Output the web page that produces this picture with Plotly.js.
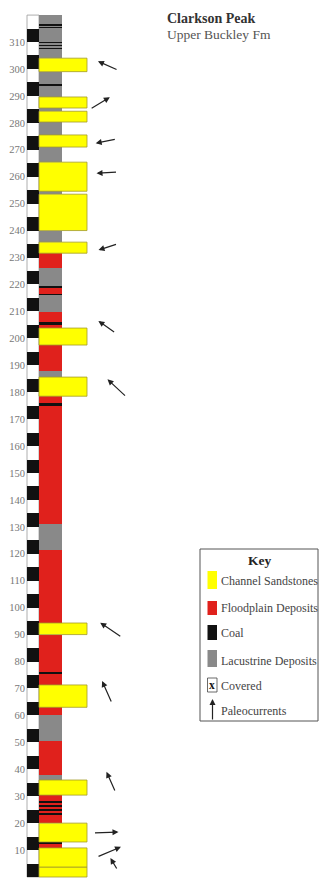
<!DOCTYPE html>
<html><head><meta charset="utf-8">
<script src="https://cdn.plot.ly/plotly-3.0.1.min.js"></script>
<style>html,body{margin:0;padding:0;background:#fff}#chart{width:323px;height:881px}</style>
</head><body><div id="chart"></div>
<script>
// ---- Data ----
// Lithologic units (metres above base of section)
const unitBase = [0, 3.7, 10.8, 13, 20, 30.4, 36, 38, 50.5, 60, 63, 71.3, 90, 94.3, 121.4, 131, 178.5, 185.6, 188, 197.5, 203.8, 209.7, 216, 219.5, 226, 231.6, 235.7, 240, 253.5, 254.6, 265.4, 271, 275.5, 280.3, 284.3, 285.5, 289.6, 299, 304];
const unitTop  = [3.7, 10.8, 13, 20, 30.4, 36, 38, 50.5, 60, 63, 71.3, 90, 94.3, 121.4, 131, 178.5, 185.6, 188, 197.5, 203.8, 209.7, 216, 219.5, 226, 231.6, 235.7, 240, 253.5, 254.6, 265.4, 271, 275.5, 280.3, 284.3, 285.5, 289.6, 299, 304, 320];
const unitLith = ['sand','sand','flood','sand','flood','sand','lac','flood','lac','flood','sand','flood','sand','flood','lac','flood','sand','lac','flood','sand','flood','lac','flood','lac','flood','sand','lac','sand','lac','sand','lac','sand','lac','sand','lac','sand','lac','sand','lac'];
// Thin coal seams (base, top)
const coalBase = [12.4, 23, 24.5, 26, 27.5, 75.2, 175, 205, 216, 218.8, 293.8, 307.4, 308.5, 309.5, 315.1, 316.1];
const coalTop  = [13, 23.6, 25.1, 26.6, 28.1, 76.1, 176, 206, 216.6, 219.4, 294.6, 307.9, 309, 310, 315.6, 316.6];
// Measuring-scale blocks (black every other 5 m)
const scaleBlackBase = [0, 10, 20, 30, 40, 50, 60, 70, 80, 90, 100, 110, 120, 130, 140, 150, 160, 170, 180, 190, 200, 210, 220, 230, 240, 250, 260, 270, 280, 290, 300, 310];
const scaleTicks = [0, 10, 20, 30, 40, 50, 60, 70, 80, 90, 100, 110, 120, 130, 140, 150, 160, 170, 180, 190, 200, 210, 220, 230, 240, 250, 260, 270, 280, 290, 300, 310];
// Paleocurrent arrows: stratigraphic height (m), azimuth of flow (deg, 0 = up)
const arrowHeight  = [301.2, 287.3, 273.2, 261.5, 233.9, 204.2, 181.5, 91.7, 68.7, 35.3, 16.5, 9.3, 3.0];
const arrowAzimuth = [294, 59, 259, 267, 252, 305, 313, 304, 336, 336, 88, 67, 342];
const arrowPosX    = [108, 100, 106, 107, 108, 107, 117, 111, 107, 111, 106, 109, 114];
const arrowLen     = [22, 23, 21, 21, 20, 21, 26, 26, 24, 22, 25, 26, 23];
// Key
const keyLabels = ['Channel Sandstones', 'Floodplain Deposits', 'Coal', 'Lacustrine Deposits', 'Covered', 'Paleocurrents'];

// ---- Styles ----
const COL = {sand:'#ffff00', flood:'#e0211c', lac:'#898989', coal:'#111111'};
const LITH_X = 39, LITH_W = 23, SAND_W = 48;
const SCALE_X = 27, SCALE_W = 12;

const traces = [];
traces.push({type:'bar', x:[SCALE_X], base:[0], y:[320], width:[SCALE_W], offset:0,
  marker:{color:'#ffffff', line:{color:'#9a9a9a', width:0.8}}, hoverinfo:'skip', showlegend:false});
traces.push({type:'bar', x:scaleBlackBase.map(()=>SCALE_X), base:scaleBlackBase, y:scaleBlackBase.map(()=>5),
  width:scaleBlackBase.map(()=>SCALE_W), offset:0, marker:{color:'#111111', line:{width:0}}, hoverinfo:'skip', showlegend:false});

function lithTrace(kind, wide, lineCol){
  const idx = unitLith.map((l,i)=>l===kind?i:-1).filter(i=>i>=0);
  return {type:'bar', x:idx.map(()=>LITH_X), base:idx.map(i=>unitBase[i]), y:idx.map(i=>unitTop[i]-unitBase[i]),
    width:idx.map(()=>wide), offset:0,
    marker:{color:COL[kind], line:{color:lineCol, width:lineCol?0.8:0}}, hoverinfo:'skip', showlegend:false};
}
traces.push(lithTrace('flood', LITH_W, null));
traces.push(lithTrace('lac', LITH_W, null));
traces.push({type:'bar', x:coalBase.map(()=>LITH_X), base:coalBase, y:coalBase.map((b,i)=>coalTop[i]-b),
  width:coalBase.map(()=>LITH_W), offset:0, marker:{color:COL.coal, line:{width:0}}, hoverinfo:'skip', showlegend:false});
traces.push(lithTrace('sand', SAND_W, '#a39a2a'));

// ---- Annotations ----
const H = 881;
const py = p => 1 - p / H;
const anns = [];
const shapes = [];
arrowHeight.forEach((h,i)=>{
  const a = arrowAzimuth[i]*Math.PI/180, L = arrowLen[i];
  const sx = Math.sin(a), sy = Math.cos(a);
  anns.push({x:arrowPosX[i], y:h, xref:'x', yref:'y', text:'', showarrow:true,
    ax:-L*sx, ay:L*sy, xshift:L/2*sx, yshift:L/2*sy,
    arrowhead:2, arrowsize:1, arrowwidth:1.2, arrowcolor:'#222'});
});
// titles
anns.push({x:165, y:py(19), xref:'x', yref:'paper', xanchor:'left', yanchor:'middle', showarrow:false,
  text:'<b>Clarkson Peak</b>', font:{family:'Liberation Serif', size:14, color:'#333'}});
anns.push({x:165, y:py(34), xref:'x', yref:'paper', xanchor:'left', yanchor:'middle', showarrow:false,
  text:'Upper Buckley Fm', font:{family:'Liberation Serif', size:13.5, color:'#555'}});
// key box
shapes.push({type:'rect', xref:'x', yref:'paper', x0:200, x1:318, y0:py(549), y1:py(721), line:{color:'#555', width:1}, fillcolor:'rgba(0,0,0,0)'});
anns.push({x:259, y:py(560), xref:'x', yref:'paper', xanchor:'center', yanchor:'middle', showarrow:false,
  text:'<b>Key</b>', font:{family:'Liberation Serif', size:13.5, color:'#222'}});
const swatch = [[571,589,COL.sand],[601,615,COL.flood],[625,640,COL.coal],[650,667,COL.lac]];
swatch.forEach(s=>shapes.push({type:'rect', xref:'x', yref:'paper', x0:207.5, x1:217, y0:py(s[1]), y1:py(s[0]), fillcolor:s[2], line:{width:0}}));
shapes.push({type:'rect', xref:'x', yref:'paper', x0:207.5, x1:217, y0:py(692), y1:py(678), fillcolor:'#fff', line:{color:'#444', width:0.8}});
anns.push({x:212.3, y:py(685), xref:'x', yref:'paper', xanchor:'center', yanchor:'middle', showarrow:false,
  text:'<b>x</b>', font:{family:'Liberation Serif', size:11.5, color:'#111'}});
const labelY = [581, 608, 633, 661, 686, 711];
keyLabels.forEach((t,i)=>anns.push({x:219, y:py(labelY[i]), xref:'x', yref:'paper', xanchor:'left', yanchor:'middle', showarrow:false,
  text:t, font:{family:'Liberation Serif', size:12, color:'#444'}}));
anns.push({x:212.5, y:py(699), xref:'x', yref:'paper', text:'', showarrow:true, ax:0, ay:22,
  arrowhead:2, arrowsize:1, arrowwidth:1.2, arrowcolor:'#222'});

const layout = {
  width:323, height:881, margin:{l:26, r:0, t:0, b:0}, paper_bgcolor:'#fff', plot_bgcolor:'#fff',
  barmode:'overlay', bargap:0, showlegend:false,
  xaxis:{range:[26,323], visible:false, fixedrange:true},
  yaxis:{range:[-1.485, 325.6], tickvals:scaleTicks, ticktext:scaleTicks.map(String), showgrid:false, zeroline:false,
    showline:false, ticks:'', automargin:false, tickfont:{family:'Liberation Serif', size:10.5, color:'#777'}, fixedrange:true},
  annotations:anns, shapes:shapes
};
Plotly.newPlot('chart', traces, layout, {staticPlot:true, displayModeBar:false});
</script></body></html>
